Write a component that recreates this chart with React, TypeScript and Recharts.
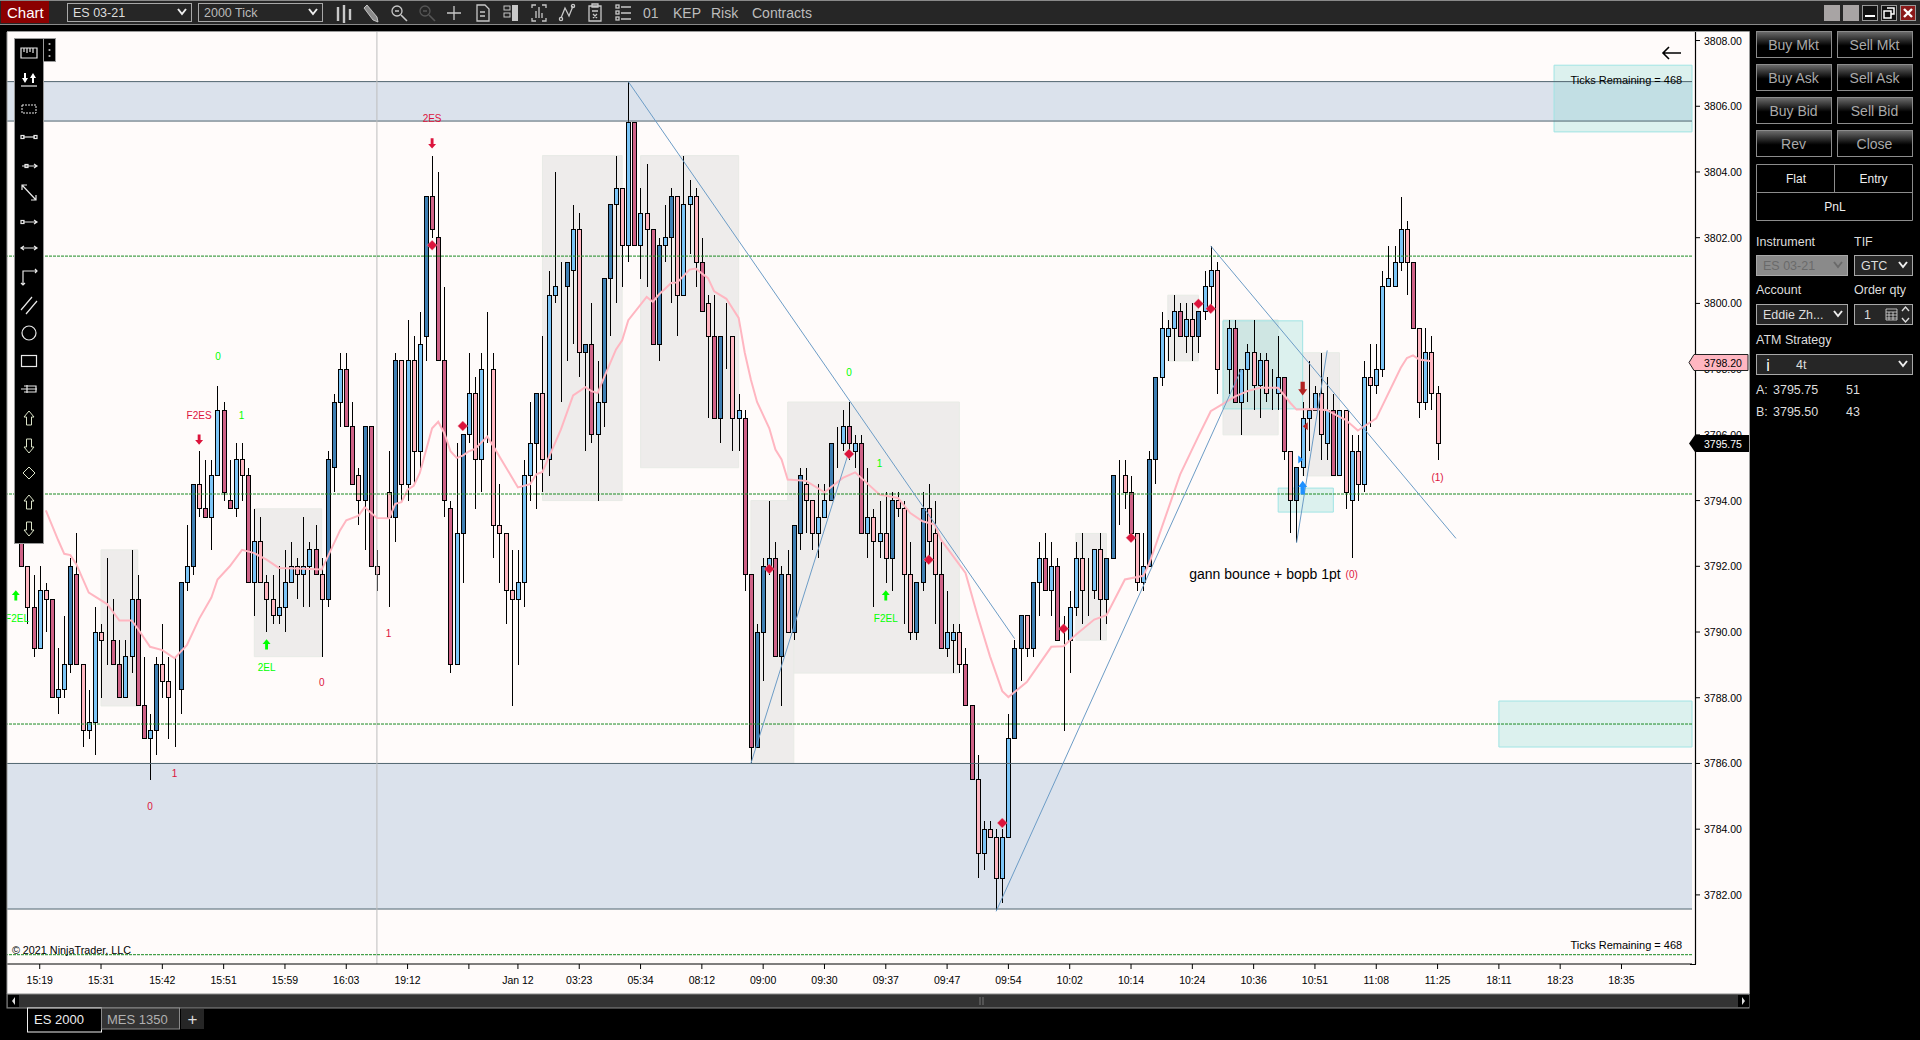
import React from 'react';
import { ComposedChart, Bar, Line, XAxis, YAxis, ReferenceArea, ReferenceLine, ReferenceDot } from 'recharts';

const FONT = '"Liberation Sans", Arial, sans-serif';

// candle values, one slot per bar position (null = no bar drawn there)
const bodyTops = [
  null,null,3793.75,3792,3790.75,3791.25,3791.25,3791,3788.25,3789,
  3792,3791.75,3789,3787.25,3790,3790,3789.75,3789.75,3789,3789.25,
  3791,3791,3787.75,3787,3789,3789,3788.5,3788.25,3791.5,3792,
  3794.5,3794.5,3793.75,3794.75,3796.75,3796.75,3794,3795.25,3795.25,3794.75,
  3792.75,3792.75,3791.5,3791,3790.75,3791.5,3792,3792,3792,3792.5,
  3792.5,3791.75,3795.25,3797,3798,3798,3796.25,3794.75,3796.25,3796.25,
  3792,null,3794.25,3798.25,3798.25,3798.25,3798.25,3798.75,3803.25,3803.25,
  3802,3798.25,3793.75,3793,3796,3797.25,3797.25,3798,3798,3798,
  3793.25,3793,3791.25,3791.5,3794.75,3795.75,3797.25,3797.25,3800.25,3800.5,
  3800.5,3801.25,3802.25,3802.25,3798.75,3798.75,3797,3800.75,3803,3803.5,
  3803.5,3805.5,3805.5,3802.75,3802.75,3802.25,3801.75,3802,3803.25,3803.25,
  3803,3803.25,3803.25,3801.25,3800,3799,3799,3799,3799,3796.75,
  3796.5,3791.75,3790,3792,3792.25,3792.25,3791.75,3791.75,3793.25,3794.75,
  3794.5,3794,3793.5,3794,3795.75,3795.75,3796.25,3796.25,3795.75,3795.75,
  3793.5,3793.5,3793,3793,3794,3794,3793.75,3791.75,3791.5,3793.75,
  3793.75,3793,3791.75,3790,3790,3790,3789,3787.75,3785.5,3784,
  3784,3783.75,3783.75,3786.75,3789.5,3790.5,3790.5,3791.5,3792.25,3792.25,
  3792,3792,3789.75,3790.75,3792.25,3792.25,3791.25,3792.5,3792.5,3792.25,
  3794.75,3794.75,3794.75,3794.25,3793,3792,3795.25,3797.75,3799.25,3799.25,
  3799.75,3799.75,3799.5,3799.5,3799.75,3800.5,3801,3801,3798,3799.25,
  3799.25,3798,3798.5,3798.5,3798.25,3798.25,3797.25,3797.75,3797.75,3795.5,
  3795,3796.5,3796.75,3797.25,3797.25,3796.75,3796.75,3796.75,3796.75,3795.5,
  3795.5,3797.75,3797.75,3798,3800.5,3800.75,3801.25,3802.25,3802.25,3801.25,
  3799.25,3798.5,3798.5,3797.25,
];
const bodyBottoms = [
  null,null,3792,3790.75,3789.5,3789.5,3791,3788,3788,3788.25,
  3789,3789,3787,3787,3787.25,3789.75,3789.75,3789,3788,3788,
  3789.25,3787.75,3786.75,3786.75,3787,3788.5,3788,3788.25,3788.25,3791.5,
  3792,3793.75,3793.5,3793.5,3794.75,3794.25,3793.75,3793.75,3794.75,3791.5,
  3791.5,3791.5,3791,3790.5,3790.5,3790.75,3791.5,3791.75,3791.75,3792,
  3791.75,3791,3791,3795,3797,3796.25,3794.5,3794,3794,3792,
  3791.75,null,3793.5,3793.5,3794.5,3794.5,3795.5,3795.5,3799,3802.25,
  3798.25,3794,3789,3789,3793,3796,3795.25,3795.25,3798,3793.25,
  3793,3791.25,3791,3791,3791.5,3794.75,3795.75,3795.25,3795.25,3800.25,
  3800.5,3800.5,3801,3798.5,3798.5,3796,3796,3797,3800.75,3803,
  3801.75,3801.75,3801.75,3801.75,3802.25,3798.75,3798.75,3801.75,3802,3800.25,
  3800.25,3803,3801.25,3799.75,3799,3796.5,3796.5,3799,3796.5,3796.5,
  3791.75,3786.5,3786.5,3790,3792,3789.25,3789.25,3790,3790,3793,
  3794,3793,3793,3793.5,3794,3795.75,3795.75,3795.75,3795.5,3793,
  3793,3792.75,3792.75,3792.25,3792.25,3793.75,3791.75,3790,3790,3791.5,
  3792.75,3791.75,3789.5,3789.5,3789.75,3789,3787.75,3785.5,3783.25,3783.25,
  3783.75,3782.5,3782.5,3783.75,3786.75,3789.5,3789.5,3789.5,3791.5,3791.25,
  3791.25,3789.75,3789.75,3789.75,3790.75,3791.25,3791.25,3791.25,3791,3791,
  3792.25,3794.75,3794.25,3793,3791.5,3791.5,3792,3795.25,3797.75,3799,
  3799.25,3799,3799,3799,3799,3799.75,3800.5,3798,3798,3798,
  3797,3797,3798,3797.5,3797.5,3797.25,3797.25,3797.25,3795.5,3794,
  3794,3795,3796.5,3796.75,3796,3795.75,3794.75,3794.75,3794.25,3794,
  3794.5,3794.5,3797.5,3797.5,3798,3800.5,3800.5,3801.25,3801.25,3799.25,
  3797,3797,3797.25,3795.75,
];
const highs = [
  null,null,3794,3792,3791.75,3792,3791.5,3791,3789.5,3790.5,
  3792.25,3793,3789,3788.25,3790.75,3790.25,3792.25,3791,3789.75,3789.75,
  3792.5,3791.75,3789.25,3787.5,3789.25,3790.25,3789.25,3789.25,3791.5,3793.25,
  3794.5,3795.5,3795.25,3795.25,3797.5,3797,3795.25,3795.75,3795.75,3795,
  3793.75,3793.5,3791.75,3791.75,3792,3792.5,3792.75,3792.25,3793.5,3792.75,
  3793.25,3792.25,3795.5,3797.25,3798.5,3798.5,3797,3795,3796.25,3796.25,
  3792.5,null,3795.5,3798.5,3798.25,3799.5,3799,3799.75,3803.25,3804.5,
  3804,3800.5,3794,3795.75,3796,3798.5,3797.75,3798.5,3799.75,3798.5,
  3794.5,3793,3792.5,3792.5,3795.25,3797,3797.25,3799,3801,3804,
  3801.25,3801.25,3803,3802.75,3798.75,3800,3798.25,3800.75,3803,3804.5,
  3803.5,3806.75,3805.5,3803.5,3804.25,3802.25,3802,3803,3803.5,3803.25,
  3804.5,3803.75,3803.5,3802,3800.25,3800.25,3799,3800,3799,3797.25,
  3796.75,3791.75,3790.25,3792.25,3794,3792.75,3792,3792.5,3793.25,3795,
  3795,3794,3794.5,3794.5,3795.75,3796.25,3796.75,3797,3796,3796,
  3795,3793.75,3794,3794.25,3794.25,3794.25,3794,3792.75,3791.5,3794.25,
  3794.5,3794,3792.75,3791.25,3790.25,3790.25,3789.5,3787.75,3786.25,3784.25,
  3784.25,3784,3784,3787.5,3789.75,3790.5,3790.5,3791.5,3792.75,3793,
  3792.75,3792.25,3790.5,3791.25,3792.75,3793,3792.25,3792.5,3793,3792.25,
  3794.75,3795.25,3795.25,3794.75,3793,3793,3795.5,3797.75,3799.75,3799.5,
  3800.25,3800,3800,3800,3799.75,3801,3801.75,3801.25,3798,3799.5,
  3799.5,3798,3798.75,3799.5,3798.5,3798.5,3798,3799,3797.75,3795.5,
  3795,3797,3798.25,3797.5,3798.5,3797.75,3797.25,3796.75,3796.75,3796,
  3796,3798.25,3798.75,3798.75,3801,3801.75,3801.75,3803.25,3802.5,3801.25,
  3799.25,3799.25,3799,3797.5,
];
const lows = [
  null,null,3792,3790.25,3789.25,3789.5,3790,3788,3787.5,3788,
  3788.75,3789,3786.5,3786.75,3786.25,3788,3789,3789,3788,3788,
  3788.75,3787.75,3786.75,3785.5,3786.25,3788,3786.75,3786.5,3787.5,3791.25,
  3791.75,3793.5,3793.5,3792.5,3794.75,3794,3793.75,3793.5,3794,3791.5,
  3790.5,3791.5,3790,3790.25,3790.25,3790,3791.5,3791,3790.75,3790.75,
  3791.75,3789.25,3790.75,3794.25,3796.25,3796.25,3794.5,3793.25,3792.5,3792,
  3791.25,null,3790.75,3792.75,3794,3794,3794.5,3795,3798.25,3802,
  3798.25,3793.5,3788.75,3789,3791.5,3795.75,3793.75,3794.25,3795.75,3792.25,
  3791.5,3790.25,3787.75,3789,3790.75,3794,3793.75,3794.25,3794.75,3800,
  3797,3798.25,3798.75,3797.75,3795.5,3795.75,3794,3796.25,3799,3800,
  3800.5,3801.25,3801.75,3800.75,3800.5,3798.75,3798.25,3801.25,3800,3799,
  3800.25,3801.5,3800.5,3799.75,3796.5,3796.5,3795.75,3798,3795.5,3795.5,
  3791.25,3786,3786.5,3788.5,3791.75,3789.25,3787.75,3790,3789.75,3792.5,
  3793,3792.5,3792.25,3793.5,3794,3795,3795.5,3795.25,3795,3793,
  3792.25,3790.75,3792.25,3791.5,3791.25,3793.5,3790.25,3789.75,3789.75,3791.25,
  3792.25,3790.25,3789.5,3789.25,3788.75,3788.75,3787.75,3785.5,3782.5,3782.75,
  3783.75,3781.5,3781.75,3783.75,3786.75,3788.5,3789.25,3789.25,3790.5,3791.25,
  3790.5,3789.75,3787,3788.75,3790.5,3790.25,3790.5,3791,3789.75,3790.25,
  3792.25,3793.25,3793.75,3793,3791.25,3791.25,3792,3794.5,3797.5,3798.25,
  3798.25,3799,3798.5,3798.25,3798.5,3799.5,3799.75,3797.25,3798,3797.25,
  3797,3796,3797,3796.75,3796.5,3797,3796.75,3796.75,3795.25,3793,
  3792.75,3794.75,3795.5,3796.75,3795.25,3795.25,3794.75,3794.75,3793.75,3792.25,
  3794,3794.25,3796.25,3797.25,3797.75,3800.5,3800.5,3801,3800.25,3799.25,
  3796.5,3796.75,3796.75,3795.25,
];
// B dark blue, b light blue, R dark pink, p light pink
const shades =
  '..RpRbpRbb' + 'BRpbbppRRb' + 'bRRbBpppBb' + 'BpRbbRRbpR' + 'bpppbbbpbb' + 'RpBBbRRpBR' +
  'p.pBpbpbBR' + 'RRRbBbpbpp' + 'pppbbbBpbb' + 'pBbpBRbBBb' + 'pbRbpRBbBp' + 'bbpRpRBppb' +
  'RRBBbRBpBB' + 'ppbbBpbRbR' + 'bpbpBpppBB' + 'ppRbbpRRpb' + 'ppbbBBpBbR' + 'bRpbbppbpB' +
  'BppRpbBBbb' + 'bRbpBbbppb' + 'RbbpbppbRp' + 'BbbbpbRbpb' + 'pbpbbbbbpR' + 'pbpp';

// moving average, read at the line's corners
const avgSlots = [6,8,9,10,11,13,16,18,20,21,23,25,27,29,31,33,34,36,38,40,42,44,47,49,51,54,55,57,58,60,62,63,64,65,66,67,69,70,71,72,73,74,75,76,78,79,83,85,86,87,90,92,94,95,96,97,99,100,101,104,105,106,108,109,111,112,114,115,117,119,120,121,122,124,125,126,127,130,133,136,138,142,145,147,149,151,152,156,158,160,162,163,166,170,172,174,177,179,182,185,186,190,191,194,196,198,200,202,204,207,209,210,213,215,217,218,220,223,227,228,229,230,232];
const avgValues = [3793.7,3792.8,3792.38,3792.34,3792.05,3791.2,3790.85,3790.35,3790.35,3790.1,3789.55,3789.45,3789.2,3789.6,3790.4,3791.05,3791.6,3792,3792.5,3792.4,3792.2,3791.95,3791.93,3791.92,3791.9,3793.1,3793.4,3793.54,3793.8,3793.47,3793.46,3793.9,3793.95,3794.33,3794.45,3794.84,3796.2,3796.4,3796.05,3795.5,3795.3,3795.37,3795.5,3795.57,3795.95,3795.65,3794.4,3794.5,3794.8,3794.87,3796.16,3797.2,3797.45,3797.33,3797.27,3797.73,3798.6,3798.88,3799.49,3800.2,3800.05,3800.27,3800.62,3800.64,3801.03,3801.06,3800.77,3800.37,3800.14,3799.56,3798.5,3797.68,3797,3796.2,3795.55,3795.25,3794.64,3794.6,3794.25,3794.69,3794.86,3794.18,3794.08,3793.62,3793.37,3793.27,3792.81,3791.8,3790.48,3789.26,3788.2,3788.02,3788.48,3789.55,3789.57,3789.92,3790.38,3790.51,3791.6,3791.71,3792.1,3794.25,3794.79,3795.96,3796.72,3796.94,3797.17,3797.33,3797.43,3797.43,3796.97,3796.77,3796.79,3796.75,3796.55,3796.46,3796.13,3796.5,3798.04,3798.34,3798.42,3798.29,3798.24];

const tickSlots = [5,15,25,35,45,55,65,75,83,93,103,113,123,133,143,153,163,173,183,193,203,213,223,233,243,253,263];
const tickNames = ['15:19','15:31','15:42','15:51','15:59','16:03','19:12','','Jan 12','03:23','05:34','08:12','09:00','09:30','09:37','09:47','09:54','10:02','10:14','10:24','10:36','10:51','11:08','11:25','18:11','18:23','18:35'];
const priceTicks = [3808,3806,3804,3802,3800,3798,3796,3794,3792,3790,3788,3786,3784,3782];

const SLOT_COUNT = 275;
const rows = Array.from({ length: SLOT_COUNT }, (_, i) => ({
  slot: i,
  top: bodyTops[i] ?? null,
  bottom: bodyBottoms[i] ?? null,
  high: highs[i] ?? null,
  low: lows[i] ?? null,
  shade: shades[i] ?? '.',
  avg: avgSlots.includes(i) ? avgValues[avgSlots.indexOf(i)] : null,
}));

// zones: [first slot, last slot, upper price, lower price]
const supplyZones = [
  [-0.5, 274.5, 3806.75, 3805.55],
  [-0.5, 274.5, 3786, 3781.57],
];
const greyBoxes = [
  [15, 21, 3792.5, 3787.75],
  [40, 51, 3793.75, 3789.25],
  [87, 100, 3804.5, 3794],
  [103, 119, 3804.5, 3795],
  [127, 155, 3797, 3788.75],
  [121, 128, 3794, 3786],
  [174, 179, 3793, 3789.75],
  [189, 194, 3800.25, 3798.25],
  [198, 207, 3799.5, 3796],
  [211, 217, 3798.5, 3794.75],
];
const tealBoxes = [
  [252, 274.5, 3807.25, 3805.22],
  [243, 274.5, 3787.9, 3786.5],
  [198, 211, 3799.47, 3796.79],
  [207, 216, 3794.38, 3793.65],
];
const dashedLevels = [3801.44, 3794.2, 3787.2, 3780.18];
const trendLines = [
  [101, 3806.75, 164, 3789.8],
  [121, 3786, 137, 3795.5],
  [161, 3781.5, 201, 3798],
  [196, 3801.75, 236, 3792.85],
  [210, 3792.71, 215, 3798.57],
];
const diamonds = [
  [69, 3801.77], [74, 3796.27], [194, 3799.99], [196, 3799.84], [124, 3791.92],
  [137, 3795.42], [150, 3792.2], [172, 3790.1], [162, 3784.19], [183, 3792.87],
];
const RED = '#dc143c';
const GREEN = '#00ff00';
// slot, price, kind
const arrows: [number, number, string, string][] = [
  [69, 3804.87, 'down', RED],
  [31, 3795.86, 'down', RED],
  [1.1, 3791.11, 'up', GREEN],
  [42, 3789.62, 'up', GREEN],
  [143, 3791.11, 'up', GREEN],
  [211, 3797.41, 'downBig', '#b22222'],
  [211, 3794.39, 'upBig', '#1e90ff'],
  [210.6, 3795.25, 'right', '#1e90ff'],
  [211.5, 3796.26, 'left', '#b22222'],
];
const notes: [number, number, string, string, number, string][] = [
  [69, 3805.62, '2ES', RED, 10, 'middle'],
  [31, 3796.6, 'F2ES', RED, 10, 'middle'],
  [37.9, 3796.6, '1', GREEN, 10, 'middle'],
  [34.07, 3798.38, '0', GREEN, 10, 'middle'],
  [1.3, 3790.42, 'F2EL', GREEN, 10, 'middle'],
  [42, 3788.93, '2EL', GREEN, 10, 'middle'],
  [51, 3788.46, '0', RED, 10, 'middle'],
  [61.9, 3789.95, '1', RED, 10, 'middle'],
  [27, 3785.68, '1', RED, 10, 'middle'],
  [23, 3784.69, '0', RED, 10, 'middle'],
  [137, 3797.9, '0', GREEN, 10, 'middle'],
  [142, 3795.12, '1', GREEN, 10, 'middle'],
  [143, 3790.42, 'F2EL', GREEN, 10, 'middle'],
  [233, 3794.7, '(1)', RED, 10, 'middle'],
  [219, 3791.75, '(0)', RED, 10, 'middle'],
  [192.5, 3791.78, 'gann bounce + bopb 1pt', '#000', 14, 'start'],
  [272.9, 3806.81, 'Ticks Remaining = 468', '#000', 11, 'end'],
  [272.9, 3780.49, 'Ticks Remaining = 468', '#000', 11, 'end'],
  [0.46, 3780.31, '© 2021 NinjaTrader, LLC', '#000', 10.8, 'start'],
];

const shadeFill: Record<string, string> = { B: '#3f7fb3', b: '#7cc5f7', R: '#cf6287', p: '#ffb6c1' };

const Candle = (props: any) => {
  const { x, y, width, height, payload } = props;
  if (payload.high == null) return null;
  const cx = Math.floor(x + width / 2) + 0.5;
  const span = payload.high - payload.low;
  const yOf = (v: number) => (span > 0 ? y + ((payload.high - v) / span) * height : y);
  const t = yOf(payload.top);
  const b = yOf(payload.bottom);
  return (
    <g shapeRendering="crispEdges">
      <line x1={cx} x2={cx} y1={y} y2={y + height} stroke="#000" strokeWidth={1} />
      <rect x={cx - 2} y={t} width={4} height={Math.max(b - t, 0)} fill={shadeFill[payload.shade]} stroke="#000" strokeWidth={1} />
    </g>
  );
};

const PriceTick = (p: any) => (
  <g>
    <line x1={p.x + 3} x2={p.x + 8} y1={p.y} y2={p.y} stroke="#000" />
    <text x={p.x + 12} y={p.y} fontSize={10.5} fontFamily={FONT} fill="#000" dominantBaseline="central">
      {Number(p.payload.value).toFixed(2)}
    </text>
  </g>
);

const DiamondMark = (p: any) => (
  <polygon points={`${p.cx},${p.cy - 5} ${p.cx + 5},${p.cy} ${p.cx},${p.cy + 5} ${p.cx - 5},${p.cy}`} fill={RED} stroke="#e9a0ad" strokeWidth={0.5} />
);

const arrowMark = (kind: string, color: string) => (p: any) => {
  const { cx, cy } = p;
  if (kind === 'left') return <polygon points={`${cx + 2},${cy - 4} ${cx + 2},${cy + 4} ${cx - 3},${cy}`} fill={color} />;
  if (kind === 'right') return <polygon points={`${cx - 2},${cy - 4} ${cx - 2},${cy + 4} ${cx + 3},${cy}`} fill={color} />;
  const big = kind.endsWith('Big');
  const sx = big ? 1.25 : 1.1;
  const sy = big ? 1.55 : 1.15;
  const shaft = big ? 1.7 : 1.3;
  const dir = kind.startsWith('up') ? -1 : 1;
  const pts = [[-shaft, -4.4], [shaft, -4.4], [shaft, 0.5], [3.6, 0.5], [0, 4.5], [-3.6, 0.5], [-shaft, 0.5]]
    .map(([a, b]) => `${cx + a * sx},${cy + b * sy * dir}`)
    .join(' ');
  return <polygon points={pts} fill={color} />;
};

const noteMark = (text: string, color: string, size: number, anchor: string) => (p: any) => (
  <text x={p.cx} y={p.cy} fontSize={size} fontFamily={FONT} fill={color} textAnchor={anchor as any} dominantBaseline="central">
    {text}
  </text>
);

const Chart = () => (
  <ComposedChart
    width={1760}
    height={1000}
    data={rows}
    margin={{ top: 32, right: 0, bottom: 0, left: 6 }}
    barCategoryGap={0}
    style={{ position: 'absolute', left: 0, top: 0 }}
  >
    <XAxis
      dataKey="slot"
      type="category"
      ticks={tickSlots}
      interval={0}
      height={36}
      tickSize={5}
      tickMargin={8}
      tickFormatter={(v: number) => tickNames[tickSlots.indexOf(v)] ?? ''}
      tick={{ fontSize: 10.5, fontFamily: FONT, fill: '#000' }}
      tickLine={{ stroke: '#000' }}
      axisLine={{ stroke: '#000' }}
    />
    <XAxis xAxisId="n" type="number" dataKey="slot" domain={[-0.5, SLOT_COUNT - 0.5]} allowDataOverflow hide />
    <YAxis
      orientation="right"
      width={68}
      domain={[3779.897, 3808.26]}
      allowDataOverflow
      ticks={priceTicks}
      interval={0}
      tickSize={0}
      tickMargin={0}
      tickLine={false}
      axisLine={false}
      tick={PriceTick}
    />
    {supplyZones.map(([a, b, hi, lo], i) => (
      <ReferenceArea key={'z' + i} xAxisId="n" x1={a} x2={b} y1={hi} y2={lo} fill="#dbe2ec" fillOpacity={1} stroke="none" ifOverflow="hidden" />
    ))}
    {greyBoxes.map(([a, b, hi, lo], i) => (
      <ReferenceArea key={'g' + i} xAxisId="n" x1={a} x2={b} y1={hi} y2={lo} fill="#eeeceb" fillOpacity={1} stroke="#e8ebe6" strokeWidth={1} />
    ))}
    {supplyZones.flatMap(([, , hi, lo], i) => [hi, lo].map((v, j) => (
      <ReferenceLine key={'zl' + i + j} y={v} xAxisId="n" stroke="#50656f" strokeWidth={1} />
    )))}
    <ReferenceLine x={60} xAxisId="n" stroke="#bdbdbd" strokeWidth={1} />
    <Bar
      dataKey={(r: any) => (r.high == null ? null : [r.low, r.high])}
      barSize={5}
      shape={Candle}
      isAnimationActive={false}
    />
    <Line dataKey="avg" connectNulls dot={false} stroke="#ffb6c1" strokeWidth={2} isAnimationActive={false} />
    {dashedLevels.map((v) => (
      <ReferenceLine key={'d' + v} y={v} xAxisId="n" stroke="#1a8a22" strokeWidth={1} strokeDasharray="3 1" isFront />
    ))}
    {tealBoxes.map(([a, b, hi, lo], i) => (
      <ReferenceArea key={'t' + i} xAxisId="n" x1={a} x2={b} y1={hi} y2={lo} fill="#82d7d2" fillOpacity={0.28} stroke="#a0e4e4" strokeWidth={1} isFront />
    ))}
    {trendLines.map(([a, p, b, q], i) => (
      <ReferenceLine key={'l' + i} xAxisId="n" segment={[{ x: a, y: p }, { x: b, y: q }]} stroke="#6c9cc6" strokeWidth={1} isFront />
    ))}
    {diamonds.map(([s, p], i) => (
      <ReferenceDot key={'m' + i} xAxisId="n" x={s} y={p} r={4} shape={DiamondMark} isFront />
    ))}
    {arrows.map(([s, p, kind, color], i) => (
      <ReferenceDot key={'a' + i} xAxisId="n" x={s} y={p} r={4} shape={arrowMark(kind, color)} isFront />
    ))}
    {notes.map(([s, p, text, color, size, anchor], i) => (
      <ReferenceDot key={'n' + i} xAxisId="n" x={s} y={p} r={1} shape={noteMark(text, color, size, anchor)} isFront />
    ))}
  </ComposedChart>
);

const T = ({ x, y, s = 12.5, c = '#ddd', a = 'start', children }: any) => (
  <text x={x} y={y} fontSize={s} fill={c} textAnchor={a} fontFamily={FONT} dominantBaseline="central">
    {children}
  </text>
);

const Chevron = ({ x, y, c = '#eee' }: any) => (
  <polyline points={`${x - 4},${y - 3} ${x},${y + 2} ${x + 4},${y - 3}`} fill="none" stroke={c} strokeWidth={2} />
);

const Select = ({ x, y, w, h, label, tx = 7, fill = '#262626', c = '#ddd', ch = '#eee' }: any) => (
  <g>
    <rect x={x + 0.5} y={y + 0.5} width={w} height={h} fill={fill} stroke="#a8a8a8" />
    <T x={x + tx} y={y + h / 2 + 0.5} s={12.5} c={c}>{label}</T>
    <Chevron x={x + w - 9} y={y + h / 2} c={ch} />
  </g>
);

const Btn = ({ x, y, label }: any) => (
  <g>
    <rect x={x + 0.5} y={y + 0.5} width={75} height={26} fill="url(#btn)" stroke="#8c8c8c" />
    <T x={x + 37.5} y={y + 13.5} s={14} c="#a9a9a9" a="middle">{label}</T>
  </g>
);

const topIcons = [344, 371, 399, 427, 454, 483, 511, 539, 567, 595, 623];

const TopIcon = ({ x, i }: any) => {
  const c = i === 3 ? '#555' : '#c8c8c8';
  const base = { fill: 'none', stroke: c, strokeWidth: 1.3 };
  switch (i) {
    case 0:
      return <g {...base} strokeWidth={2.4}><path d={`M${x - 6} 7V21M${x} 5V23M${x + 6} 9V20`} /></g>;
    case 1:
      return <g><path d={`M${x - 7} 8L${x - 4} 5L${x + 6} 17L${x + 7} 22L${x + 2} 20Z`} fill="#8a8a8a" stroke="#ddd" strokeWidth={0.8} /></g>;
    case 2:
    case 3:
      return <g {...base}><circle cx={x - 2} cy={11} r={5} /><path d={`M${x + 2} 15L${x + 8} 21M${x - 4} 11h4`} strokeWidth={1.6} /></g>;
    case 4:
      return <g {...base}><path d={`M${x - 7} 13H${x + 7}M${x} 6V20`} /></g>;
    case 5:
      return <g {...base}><path d={`M${x - 6} 5H${x + 2}L${x + 6} 9V21H${x - 6}ZM${x - 3} 12h5M${x - 3} 16h5`} /></g>;
    case 6:
      return <g><rect x={x + 1} y={5} width={6} height={16} fill={c} /><rect x={x - 7} y={6} width={6} height={4} fill="none" stroke={c} /><rect x={x - 7} y={13} width={6} height={4} fill="none" stroke={c} /></g>;
    case 7:
      return <g {...base}><path d={`M${x - 7} 8V5H${x - 3}M${x + 3} 5H${x + 7}V8M${x - 7} 18V21H${x - 3}M${x + 3} 21H${x + 7}V18M${x - 3} 18V11M${x} 18V7M${x + 3} 18V13`} /></g>;
    case 8:
      return <g {...base}><path d={`M${x - 6} 18L${x - 2} 8L${x + 2} 16L${x + 6} 6`} /><circle cx={x - 6} cy={19} r={1.6} /><circle cx={x + 6} cy={6} r={1.6} /></g>;
    case 9:
      return <g {...base}><path d={`M${x - 6} 6H${x + 6}V21H${x - 6}ZM${x - 3} 4h6v3h-6ZM${x - 3} 11h6M${x - 2} 14l4 4M${x + 2} 14l-4 4`} /></g>;
    default:
      return <g {...base}><path d={`M${x - 2} 7H${x + 8}M${x - 2} 13H${x + 8}M${x - 2} 19H${x + 8}`} /><rect x={x - 7} y={5} width={3} height={3} /><rect x={x - 7} y={11} width={3} height={3} /><rect x={x - 7} y={17} width={3} height={3} /></g>;
  }
};

const Toolbar = () => {
  const line = { fill: 'none', stroke: '#e8e8e8', strokeWidth: 1.2 };
  const cx = 29;
  const block = (y: number, up: boolean) => {
    const d = up ? 1 : -1;
    return <path d={`M${cx} ${y - 7 * d}L${cx + 5} ${y - 1 * d}H${cx + 2.5}V${y + 7 * d}H${cx - 2.5}V${y - 1 * d}H${cx - 5}Z`} fill="none" stroke="#dbe3c8" strokeWidth={1} />;
  };
  return (
    <g>
      <rect x={14.5} y={38.5} width={29} height={505} fill="#000" stroke="#9a9a9a" />
      <rect x={43.5} y={38.5} width={12} height={23} fill="#000" stroke="#9a9a9a" />
      <circle cx={49.5} cy={44} r={1.1} fill="#bbb" /><circle cx={49.5} cy={50} r={1.1} fill="#bbb" /><circle cx={49.5} cy={56} r={1.1} fill="#bbb" />
      <path d={`M21 48H37V58H21ZM24 48V52M27 48V53M30 48V52M33 48V53`} {...line} />
      <path d={`M21 86H37`} {...line} />
      <polygon points="24,73 26,73 26,78 28,78 25,83 22,78 24,78" fill="#fff" />
      <polygon points="32,83 34,83 34,78 36,78 33,73 30,78 32,78" fill="#fff" />
      <rect x={22} y={105} width={14} height={8} fill="none" stroke="#e8e8e8" strokeDasharray="2 1" />
      <path d="M23 137H35" {...line} /><rect x={21} y={135.5} width={3} height={3} {...line} /><rect x={34} y={135.5} width={3} height={3} {...line} />
      <path d="M22 166H37M34 164L37 166L34 168" {...line} /><rect x={25} y={164.5} width={3} height={3} {...line} />
      <path d="M22 185L36 200M22 190V185H27M36 195V200H31" {...line} />
      <path d="M23 222H37M34 220L37 222L34 224" {...line} /><rect x={21} y={220.5} width={3} height={3} {...line} />
      <path d="M21 248H37M24 246L21 248L24 250M34 246L37 248L34 250" {...line} />
      <path d="M23 285V271H37M35 269L37 271L35 273M21 283L23 285L25 283" {...line} />
      <path d="M21 310L32 297M26 314L37 301" {...line} />
      <ellipse cx={29} cy={333} rx={7} ry={7} {...line} />
      <rect x={21.5} y={355.5} width={15} height={11} {...line} />
      <path d="M21 389H37M27 385V393M24 386H36V392H24" {...line} />
      {block(418, true)}
      {block(446, false)}
      <path d="M29 467L35 473L29 479L23 473Z" fill="none" stroke="#dbe3c8" />
      {block(502, true)}
      {block(529, false)}
    </g>
  );
};

const Overlay = () => (
  <svg width={1920} height={1040} style={{ position: 'absolute', left: 0, top: 0, pointerEvents: 'none' }}>
    <defs>
      <linearGradient id="btn" x1="0" y1="0" x2="0" y2="1">
        <stop offset="0" stopColor="#6e6e6e" />
        <stop offset="0.55" stopColor="#000" />
        <stop offset="1" stopColor="#000" />
      </linearGradient>
    </defs>
    {/* frame around the plot */}
    <rect x={0} y={25} width={7} height={1015} fill="#000" />
    <path d="M7 31.5H1749.5V994" fill="none" stroke="#9a9a9a" />
    <path d="M7 32V994" stroke="#9a9a9a" />
    <path d="M1695.5 32V964M1690 964.5H1696" stroke="#000" strokeWidth={1.2} />
    <path d="M1663 53H1681M1669 47L1663 53L1669 59" fill="none" stroke="#000" strokeWidth={1.6} />

    {/* last price tags */}
    <polygon points="1689,362.5 1694,354.5 1748,354.5 1748,370.5 1694,370.5" fill="#ffb6c1" stroke="#222" />
    <T x={1704} y={363} s={10.5} c="#000">3798.20</T>
    <polygon points="1689,443.5 1695,435 1749,435 1749,452 1695,452" fill="#000" />
    <T x={1704} y={444} s={10.5} c="#fff">3795.75</T>

    <Toolbar />

    {/* title bar */}
    <rect x={0} y={0} width={1920} height={24} fill="#262626" />
    <rect x={0} y={0} width={1920} height={1} fill="#8a8a8a" />
    <rect x={0} y={24} width={1920} height={1} fill="#8a8a8a" />
    <rect x={1} y={1} width={48} height={22} fill="#8b0000" />
    <T x={7} y={12.5} s={15} c="#fff">Chart</T>
    <Select x={67} y={3} w={124} h={18} label="ES 03-21" tx={6} />
    <Select x={198} y={3} w={124} h={18} label="2000 Tick" tx={6} c="#bbb" />
    {topIcons.map((x, i) => <TopIcon key={x} x={x} i={i} />)}
    <T x={643} y={12.5} s={14} c="#bdbdbd">01</T>
    <T x={673} y={12.5} s={14} c="#bdbdbd">KEP</T>
    <T x={711} y={12.5} s={14} c="#bdbdbd">Risk</T>
    <T x={752} y={12.5} s={14} c="#bdbdbd">Contracts</T>

    <rect x={1824} y={5} width={16} height={16} fill="#a8a4a4" />
    <rect x={1843} y={5} width={16} height={16} fill="#a8a4a4" />
    <rect x={1862.5} y={5.5} width={15} height={15} fill="#111" stroke="#999" />
    <rect x={1865} y={15} width={10} height={2} fill="#fff" />
    <rect x={1881.5} y={5.5} width={15} height={15} fill="#111" stroke="#999" />
    <path d="M1887 8H1894V14H1891M1884 11H1891V18H1884Z" fill="none" stroke="#fff" strokeWidth={1.5} />
    <rect x={1900.5} y={5.5} width={15} height={15} fill="#8b1a1a" stroke="#999" />
    <path d="M1904 9L1912 17M1912 9L1904 17" stroke="#fff" strokeWidth={2.4} />

    {/* order panel */}
    {[['Buy Mkt', 'Sell Mkt', 31], ['Buy Ask', 'Sell Ask', 64], ['Buy Bid', 'Sell Bid', 97], ['Rev', 'Close', 130]].map(([a, b, y]: any) => (
      <g key={a}>
        <Btn x={1756} y={y} label={a} />
        <Btn x={1837} y={y} label={b} />
      </g>
    ))}
    <path d="M1756.5 164.5H1912.5V220.5H1756.5ZM1756.5 192.5H1912.5M1834.5 164.5V192.5" fill="none" stroke="#8c8c8c" />
    <T x={1796} y={178.5} s={12} c="#eee" a="middle">Flat</T>
    <T x={1873.5} y={178.5} s={12} c="#eee" a="middle">Entry</T>
    <T x={1835} y={206.5} s={12} c="#eee" a="middle">PnL</T>
    <T x={1756} y={241.5}>Instrument</T>
    <T x={1854} y={241.5}>TIF</T>
    <Select x={1756} y={255} w={91} h={20} label="ES 03-21" fill="#8a8a8a" c="#6a6a6a" ch="#6a6a6a" />
    <Select x={1854} y={255} w={58} h={20} label="GTC" />
    <T x={1756} y={289.5}>Account</T>
    <T x={1854} y={289.5}>Order qty</T>
    <Select x={1756} y={304} w={91} h={20} label="Eddie Zh..." />
    <rect x={1854.5} y={304.5} width={58} height={20} fill="#262626" stroke="#a8a8a8" />
    <T x={1864} y={315}>1</T>
    <path d="M1886 309H1897V320H1886ZM1886 312H1897M1886 315H1897M1886 318H1897M1889 312V320M1893 312V320" fill="none" stroke="#ddd" strokeWidth={0.8} />
    <path d="M1902 311L1905.5 307L1909 311M1902 318L1905.5 322L1909 318" fill="none" stroke="#ddd" strokeWidth={1.4} />
    <T x={1756} y={339.5}>ATM Strategy</T>
    <Select x={1756} y={354} w={156} h={20} label="4t" tx={40} />
    <T x={1768} y={365} s={16} c="#fff" a="middle">i</T>
    <T x={1756} y={390}>A:</T><T x={1773} y={390}>3795.75</T><T x={1846} y={390}>51</T>
    <T x={1756} y={412}>B:</T><T x={1773} y={412}>3795.50</T><T x={1846} y={412}>43</T>

    {/* scroll bar and tabs */}
    <rect x={7} y={994} width={1742} height={14} fill="#333" stroke="#8a8a8a" />
    <rect x={8} y={995} width={11} height={12} fill="#000" />
    <polygon points="15,997 15,1005 12,1001" fill="#ddd" />
    <rect x={1738} y={995} width={11} height={12} fill="#000" />
    <polygon points="1742,997 1742,1005 1745,1001" fill="#ddd" />
    <path d="M980 997V1005M983 997V1005" stroke="#777" />
    <rect x={27.5} y={1008} width={74} height={24} fill="#000" stroke="#eee" />
    <T x={34} y={1019} s={13} c="#eee">ES 2000</T>
    <rect x={101.5} y={1008} width={78} height={21} fill="#333" stroke="#8a8a8a" />
    <T x={107} y={1019} s={13} c="#b0b0b0">MES 1350</T>
    <rect x={181} y={1009} width={23} height={20} fill="#262626" />
    <T x={192.5} y={1019} s={17} c="#ddd" a="middle">+</T>
  </svg>
);

export default function App() {
  return (
    <div style={{ position: 'fixed', left: 0, top: 0, width: 1920, height: 1040, background: '#000', overflow: 'hidden' }}>
      <div style={{ position: 'absolute', left: 7, top: 32, width: 1742, height: 962, background: '#fffbfa' }} />
      <Chart />
      <Overlay />
    </div>
  );
}
